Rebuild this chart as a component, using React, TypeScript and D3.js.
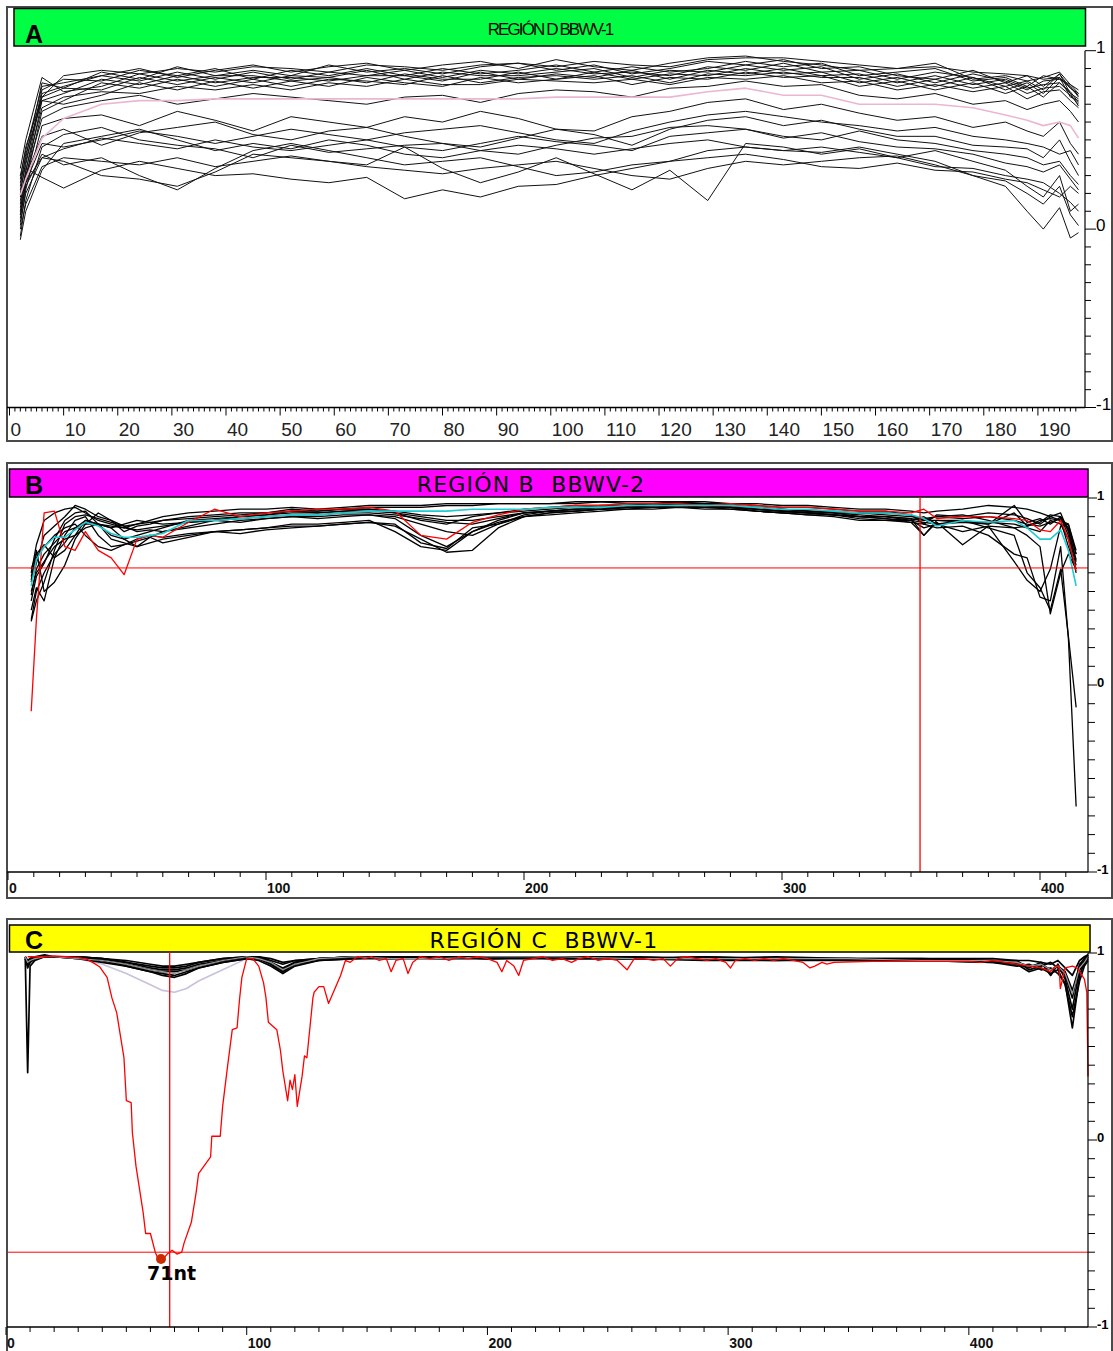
import React, { useEffect, useRef } from 'react';
import * as d3 from 'd3';

// values are stored x100 (1.00 -> 100)

// ---------- panel A : REGIÓN D BBWV-1 ----------
const A_POS = [2, 3, 6, 10, 17, 24, 31, 38, 45, 52, 59, 66, 73, 80, 87, 94, 101, 108, 115, 122, 129, 136, 143, 150, 157, 164, 171, 178, 184, 188, 191, 194, 196, 197.5];
const A_LINES = [
  [30, 44, 80, 82, 86, 90, 85, 89, 92, 88, 91, 93, 89, 92, 94, 90, 95, 91, 89, 93, 96, 97, 94, 92, 89, 90, 93, 84, 86, 83, 85, 88, 81, 78],
  [26, 40, 82, 79, 88, 84, 91, 86, 89, 86, 92, 88, 90, 87, 91, 93, 89, 92, 87, 90, 94, 92, 95, 90, 91, 86, 84, 89, 82, 86, 80, 87, 79, 76],
  [22, 36, 78, 84, 83, 89, 86, 90, 84, 89, 86, 90, 86, 90, 87, 89, 92, 88, 91, 88, 90, 94, 91, 93, 86, 88, 90, 83, 85, 80, 86, 84, 80, 74],
  [18, 32, 76, 80, 86, 83, 88, 84, 88, 84, 88, 86, 89, 85, 89, 87, 90, 87, 88, 86, 91, 89, 93, 88, 89, 84, 88, 85, 80, 83, 78, 87, 76, 73],
  [34, 50, 85, 77, 80, 87, 83, 86, 86, 83, 85, 89, 84, 88, 86, 86, 88, 90, 85, 89, 88, 92, 89, 91, 84, 87, 82, 87, 83, 78, 83, 84, 81, 76],
  [12, 28, 72, 76, 84, 81, 86, 82, 85, 85, 83, 86, 86, 83, 88, 84, 87, 85, 89, 84, 89, 87, 90, 86, 87, 82, 86, 81, 84, 79, 81, 82, 77, 71],
  [20, 38, 74, 79, 78, 85, 81, 85, 82, 86, 85, 82, 87, 84, 84, 88, 84, 88, 84, 87, 86, 90, 87, 88, 82, 85, 80, 85, 78, 82, 76, 85, 74, 72],
  [6, 26, 66, 72, 82, 79, 84, 80, 84, 80, 84, 83, 81, 86, 82, 85, 86, 84, 86, 82, 87, 86, 88, 85, 85, 80, 84, 79, 82, 76, 79, 80, 75, 70],
  [24, 42, 72, 70, 75, 82, 78, 83, 79, 83, 80, 85, 82, 80, 85, 82, 84, 86, 81, 85, 84, 88, 85, 86, 80, 83, 78, 82, 76, 80, 74, 82, 76, 69],
  [14, 33, 68, 74, 77, 76, 80, 78, 81, 78, 82, 80, 84, 81, 81, 84, 83, 82, 84, 81, 85, 84, 86, 82, 83, 78, 81, 77, 80, 73, 77, 78, 72, 68],
  [28, 46, 74, 86, 89, 87, 90, 88, 91, 90, 88, 92, 91, 89, 92, 93, 91, 94, 92, 91, 95, 96, 96, 94, 92, 90, 91, 88, 87, 86, 84, 85, 79, 75],
  [10, 30, 62, 68, 72, 75, 70, 73, 76, 74, 72, 70, 74, 75, 71, 76, 78, 77, 74, 79, 80, 83, 80, 81, 75, 73, 76, 70, 72, 67, 70, 72, 66, 60],
  [2, 22, 58, 62, 64, 58, 66, 61, 55, 63, 60, 57, 63, 60, 66, 62, 56, 55, 63, 66, 71, 73, 67, 70, 65, 61, 63, 57, 60, 55, 52, 60, 48, 42],
  [16, 30, 52, 56, 47, 54, 57, 60, 53, 50, 55, 57, 52, 48, 46, 51, 56, 53, 47, 56, 61, 63, 58, 61, 56, 52, 52, 47, 46, 45, 40, 50, 38, 30],
  [-4, 16, 46, 53, 57, 50, 47, 45, 40, 47, 43, 45, 47, 48, 44, 42, 47, 51, 52, 57, 58, 56, 51, 54, 49, 46, 45, 42, 37, 35, 32, 36, 28, 22],
  [8, 26, 48, 46, 50, 55, 52, 48, 52, 56, 53, 50, 54, 56, 58, 54, 50, 48, 55, 60, 64, 66, 63, 60, 58, 55, 57, 52, 50, 48, 46, 42, 44, 36],
  [4, 20, 40, 45, 51, 48, 45, 50, 46, 44, 47, 50, 46, 44, 48, 52, 49, 47, 44, 52, 54, 56, 52, 50, 55, 50, 48, 44, 42, 40, 36, 38, 30, 25],
  [30, 34, 29, 23, 33, 38, 34, 30, 31, 28, 26, 29, 17, 22, 18, 24, 25, 30, 34, 38, 44, 46, 44, 43, 46, 42, 38, 30, 24, 10, 0, 12, -5, -2],
  [18, 26, 40, 38, 30, 28, 24, 32, 42, 40, 38, 36, 46, 34, 26, 32, 40, 31, 22, 33, 16, 48, 46, 42, 45, 40, 44, 38, 33, 24, 18, 30, 10, 14],
  [8, 24, 42, 36, 40, 30, 22, 34, 44, 48, 44, 40, 36, 38, 40, 35, 30, 32, 36, 38, 40, 42, 39, 35, 34, 37, 33, 32, 28, 26, 22, 18, 24, 20],
  [0, 14, 35, 40, 38, 36, 40, 35, 38, 41, 38, 35, 33, 31, 34, 36, 38, 34, 30, 28, 34, 38, 36, 38, 40, 41, 36, 30, 27, 20, 14, 24, 8, 2],
  [-6, 10, 33, 48, 52, 56, 50, 44, 48, 45, 50, 47, 42, 40, 44, 47, 45, 42, 45, 48, 50, 46, 44, 46, 43, 40, 35, 34, 30, 28, 26, 20, 15, 10],
];
const A_MEAN = [19, 28, 51, 62, 70, 72, 72, 73, 73, 73, 73, 73, 73, 73, 73, 73, 74, 74, 74, 74, 77, 79, 75, 75, 70, 70, 70, 68, 64, 61, 58, 60, 58, 51];

// ---------- panel B : REGIÓN B BBWV-2 ----------
const B_POS = [9, 11, 14, 18, 22, 26, 30, 35, 40, 45, 50, 55, 60, 70, 80, 90, 100, 110, 120, 130, 140, 150, 160, 170, 180, 190, 200, 210, 220, 230, 240, 250, 260, 270, 280, 290, 300, 310, 320, 330, 340, 350, 355, 360, 370, 380, 390, 395, 400, 404, 408, 411, 414];
const B_LINES = [
  [60, 75, 88, 92, 94, 95, 92, 88, 86, 84, 86, 88, 90, 92, 93, 94, 94, 95, 94, 95, 96, 96, 96, 97, 97, 97, 97, 97, 97, 98, 98, 98, 98, 98, 97, 97, 96, 96, 95, 94, 94, 93, 92, 93, 94, 96, 95, 94, 92, 90, 88, 86, 70],
  [55, 65, 80, 85, 90, 96, 94, 90, 88, 82, 85, 86, 88, 90, 91, 92, 92, 94, 93, 94, 95, 95, 95, 96, 96, 97, 97, 97, 98, 98, 97, 97, 98, 97, 97, 96, 95, 95, 94, 93, 93, 91, 86, 91, 90, 92, 91, 89, 86, 90, 92, 82, 66],
  [45, 58, 65, 78, 88, 92, 93, 86, 80, 78, 80, 82, 84, 88, 89, 90, 91, 93, 92, 93, 94, 92, 88, 86, 90, 92, 94, 95, 96, 96, 96, 97, 97, 97, 96, 95, 94, 93, 93, 92, 92, 91, 88, 90, 91, 88, 84, 85, 87, 91, 90, 80, 64],
  [35, 50, 60, 70, 76, 84, 88, 86, 78, 76, 74, 76, 78, 80, 82, 83, 84, 86, 86, 87, 88, 82, 74, 72, 82, 88, 92, 93, 94, 95, 96, 96, 96, 96, 95, 94, 93, 93, 92, 91, 90, 89, 80, 88, 88, 86, 92, 85, 88, 89, 88, 74, 62],
  [62, 70, 75, 68, 72, 80, 88, 86, 84, 78, 74, 79, 82, 84, 86, 88, 89, 90, 90, 91, 91, 90, 86, 82, 80, 86, 91, 93, 94, 94, 95, 96, 96, 95, 95, 94, 93, 92, 92, 90, 90, 88, 87, 86, 88, 84, 80, 60, 52, 40, 62, 26, -12],
  [56, 72, 50, 55, 64, 78, 86, 92, 88, 85, 82, 83, 82, 85, 88, 87, 89, 90, 89, 90, 91, 89, 80, 74, 82, 87, 90, 92, 93, 94, 94, 95, 95, 95, 95, 93, 92, 91, 91, 90, 89, 87, 86, 84, 85, 80, 70, 68, 47, 45, 74, 25, -65],
  [58, 68, 74, 80, 84, 86, 80, 74, 72, 75, 78, 80, 79, 81, 82, 83, 84, 85, 85, 86, 87, 85, 78, 71, 72, 84, 90, 92, 93, 94, 95, 95, 95, 95, 95, 94, 93, 92, 91, 89, 88, 88, 90, 86, 82, 85, 66, 56, 50, 62, 85, 86, 72],
  [40, 52, 45, 68, 80, 88, 90, 80, 74, 75, 77, 79, 76, 79, 82, 81, 83, 84, 85, 86, 87, 86, 76, 73, 84, 86, 90, 91, 92, 93, 94, 94, 95, 94, 94, 93, 92, 91, 90, 88, 88, 87, 80, 87, 75, 85, 84, 80, 74, 38, 60, 70, 62],
  [50, 60, 66, 74, 78, 80, 84, 86, 84, 86, 88, 87, 86, 87, 88, 90, 91, 92, 92, 93, 93, 92, 90, 88, 88, 90, 92, 93, 94, 95, 95, 95, 96, 96, 95, 94, 93, 92, 91, 90, 89, 88, 84, 86, 87, 86, 96, 87, 89, 86, 90, 84, 70],
  [48, 62, 70, 76, 82, 84, 86, 86, 85, 84, 83, 84, 85, 87, 88, 89, 90, 91, 91, 92, 92, 91, 89, 87, 86, 89, 92, 93, 93, 94, 95, 95, 95, 95, 94, 93, 92, 92, 91, 90, 90, 89, 88, 88, 87, 87, 86, 84, 82, 88, 86, 78, 60],
  [34, 45, 55, 72, 86, 90, 91, 89, 87, 85, 86, 87, 88, 89, 90, 91, 92, 93, 93, 94, 94, 93, 91, 90, 91, 92, 93, 94, 95, 96, 96, 96, 97, 97, 96, 95, 94, 93, 92, 92, 91, 90, 89, 90, 89, 90, 88, 86, 85, 87, 89, 83, 67],
];
const B_RED = [-14, 35, 92, 93, 74, 72, 82, 72, 68, 59, 78, 80, 79, 87, 94, 90, 92, 93, 94, 94, 95, 93, 80, 78, 87, 91, 94, 95, 96, 96, 97, 97, 97, 96, 97, 96, 95, 95, 94, 93, 93, 92, 94, 89, 90, 90, 89, 88, 83, 82, 88, 78, 61];
const B_CYAN = [53, 67, 74, 79, 79, 83, 87, 85, 81, 79, 79, 80, 81, 88, 88, 89, 90, 91, 91, 92, 93, 93, 93, 93, 94, 94, 94, 95, 95, 95, 96, 96, 96, 96, 96, 95, 94, 94, 93, 92, 92, 91, 89, 85, 88, 87, 88, 84, 78, 78, 83, 72, 53];
const B_CROSS_POS = 353.5;
const B_CROSS_VAL = 0.626;

// ---------- panel C : REGIÓN C BBWV-1 ----------
const C_POS = [8, 9, 10, 12, 16, 20, 30, 40, 50, 60, 65, 70, 75, 80, 90, 100, 105, 110, 115, 120, 130, 145, 160, 180, 200, 230, 260, 290, 320, 350, 380, 410, 420, 425, 430, 434, 437, 440, 443, 446, 448, 449.5];
const C_LINES = [
  [97, 36, 93, 96, 98, 98, 98, 97, 95, 93, 92, 92, 93, 95, 97, 98, 98, 96, 94, 96, 97, 98, 98, 98, 97, 98, 98, 97, 98, 97, 97, 96, 95, 93, 94, 91, 93, 90, 80, 93, 96, 98],
  [98, 92, 95, 97, 98, 98, 98, 96, 94, 91, 90, 90, 91, 93, 96, 98, 97, 95, 91, 95, 97, 98, 98, 97, 98, 97, 97, 98, 97, 97, 96, 96, 94, 92, 95, 88, 94, 86, 70, 91, 94, 97],
  [98, 95, 96, 98, 98, 98, 97, 96, 93, 90, 89, 88, 90, 92, 95, 97, 97, 94, 90, 94, 96, 97, 98, 98, 97, 98, 97, 97, 97, 96, 96, 95, 93, 94, 91, 92, 89, 84, 60, 88, 95, 98],
  [97, 94, 97, 98, 98, 98, 98, 97, 95, 92, 91, 91, 92, 94, 96, 98, 98, 95, 92, 95, 97, 98, 97, 98, 98, 97, 98, 97, 96, 97, 96, 96, 96, 91, 93, 95, 92, 88, 76, 94, 97, 99],
  [98, 96, 97, 98, 99, 98, 98, 97, 96, 94, 93, 93, 94, 95, 97, 98, 98, 97, 95, 96, 97, 98, 98, 98, 98, 98, 97, 98, 97, 97, 97, 97, 96, 96, 95, 94, 96, 92, 88, 96, 98, 99],
  [97, 93, 95, 97, 98, 98, 97, 95, 93, 90, 88, 87, 89, 92, 95, 97, 96, 93, 89, 93, 96, 97, 97, 97, 97, 97, 97, 96, 96, 96, 96, 95, 94, 90, 92, 89, 91, 83, 66, 85, 93, 96],
];
const C_GRAY = [98, 95, 96, 97, 98, 98, 97, 96, 94, 91, 90, 89, 91, 93, 96, 98, 97, 95, 91, 94, 97, 98, 97, 97, 98, 98, 97, 97, 97, 97, 96, 96, 95, 93, 94, 91, 93, 89, 78, 92, 95, 98];
const C_LILAC = [98, 96, 97, 98, 98, 98, 97, 94, 89, 83, 80, 79, 81, 85, 91, 97, 96, 93, 90, 93, 96, 97, 98, 97, 97, 97, 97, 97, 97, 96, 96, 96, 95, 93, 94, 91, 93, 89, 79, 92, 95, 98];
const C_RED_POS = [
  9, 15, 20, 25, 30, 33, 36, 39, 42, 44, 46, 47, 49, 50, 52, 52.5, 54, 57, 58, 60,
  62, 63, 65, 67, 69, 71, 73, 74, 77, 79, 80, 85, 85.5, 89, 90, 92, 94, 96, 97, 98,
  100, 102.5, 105, 107, 108, 109, 112.5, 114, 115, 117, 118, 119, 120, 121, 123, 124, 125, 127.5, 128, 130,
  132, 134, 136, 139, 141, 143, 146, 149, 152, 155, 158, 160, 162, 165, 167, 169, 172, 176, 180, 184,
  188, 192, 196, 200, 204, 206, 208, 211, 213, 215, 219, 223, 227, 231, 235, 238, 242, 246, 250, 254,
  258, 261, 265, 269, 273, 276, 279, 283, 287, 291, 295, 299, 301, 303, 307, 311, 315, 319, 323, 327,
  331, 334, 336, 339, 341, 344, 360, 380, 400, 405, 410, 415, 420, 425, 430, 434, 436, 437.5, 438, 440,
  443, 445, 448, 449, 449.5,
];
const C_RED = [
  98, 98, 98.5, 98, 97.5, 97, 95, 92.5, 87, 76, 68, 60, 44, 21, 20, 4, -14, -39, -50, -50,
  -60, -63, -64, -61, -59, -61, -60, -55, -44, -28, -18, -9, 2, 2, 18, 39, 59, 60, 75, 87,
  97, 97, 93, 84, 76, 63, 59, 48, 37, 21, 32, 27, 35, 18, 34, 45, 44, 76, 79, 82,
  82, 73, 79, 88, 96, 95, 98, 97, 98, 96, 97, 90, 96, 97, 89, 95, 98, 97, 98, 96,
  98, 97, 98, 97, 95, 90, 96, 93, 88, 96, 97, 98, 96, 97, 95, 97, 98, 96, 97, 96,
  91, 97, 97, 96, 97, 93, 97, 98, 97, 96, 97, 95, 92, 96, 97, 96, 97, 96, 97, 96,
  95, 92, 93, 95, 94, 95, 95.5, 95.5, 95.5, 95, 96, 95, 94, 93, 92, 90, 93, 93, 81, 92,
  93, 92, 86, 79, 34,
];
const C_CROSS_POS = 68;
const C_CROSS_VAL = -0.6;
const C_MIN_POS = 64.4;
const C_MIN_VAL = -0.636;
const C_MIN_LABEL = '71nt';

const SANS = '"Liberation Sans", Arial, sans-serif';
const ROUND = '"DejaVu Sans", "Noto Sans", sans-serif';

type Scale = d3.ScaleLinear<number, number>;
type G = d3.Selection<SVGSVGElement, unknown, null, undefined>;

function addLine(svg: G, xs: number[], vs: number[], x: Scale, y: Scale, stroke: string, w: number) {
  const pts = d3.zip(xs, vs) as [number, number][];
  const line = d3.line<[number, number]>().x(d => x(d[0])).y(d => y(d[1] / 100));
  svg.append('path').datum(pts)
    .attr('d', line)
    .attr('fill', 'none')
    .attr('stroke', stroke)
    .attr('stroke-width', w)
    .attr('stroke-linejoin', 'round');
}

function frame(svg: G, top: number, bottom: number) {
  svg.append('rect')
    .attr('x', 7).attr('y', top)
    .attr('width', 1105).attr('height', bottom - top)
    .attr('fill', 'none').attr('stroke', '#4a4a4a').attr('stroke-width', 2);
}

function header(svg: G, x0: number, y0: number, x1: number, y1: number, fill: string, letter: string) {
  svg.append('rect')
    .attr('x', x0).attr('y', y0).attr('width', x1 - x0).attr('height', y1 - y0)
    .attr('fill', fill).attr('stroke', '#000').attr('stroke-width', 1.5);
  svg.append('text')
    .attr('x', 25).attr('y', y1 - 3)
    .attr('font-family', SANS).attr('font-weight', 'bold').attr('font-size', 25)
    .text(letter);
}

function rightAxis(svg: G, y: Scale, ax: number, minorLen: number, majorLen: number, labelX: number, size: number, weight: string) {
  svg.append('line')
    .attr('x1', ax).attr('x2', ax).attr('y1', y(1)).attr('y2', y(-1))
    .attr('stroke', '#000').attr('stroke-width', 1.2);
  d3.range(-10, 11).forEach(i => {
    const major = i % 10 === 0;
    svg.append('line')
      .attr('x1', ax).attr('x2', ax + (major ? majorLen : minorLen))
      .attr('y1', y(i / 10)).attr('y2', y(i / 10))
      .attr('stroke', '#000').attr('stroke-width', 1);
  });
  [1, 0, -1].forEach(v => {
    svg.append('text')
      .attr('x', labelX).attr('y', y(v) + 2)
      .attr('font-family', SANS).attr('font-size', size).attr('font-weight', weight)
      .text(String(v));
  });
}

function bottomAxis(svg: G, x: Scale, y0: number, x1: number, ticks: number[], majorStep: number,
  minorLen: number, majorLen: number, labelY: number, size: number, weight: string, color: string) {
  svg.append('line')
    .attr('x1', 7).attr('x2', x1).attr('y1', y0).attr('y2', y0)
    .attr('stroke', '#000').attr('stroke-width', 1.5);
  ticks.forEach(t => {
    const major = t % majorStep === 0;
    svg.append('line')
      .attr('x1', x(t)).attr('x2', x(t))
      .attr('y1', y0).attr('y2', y0 + (major ? majorLen : minorLen))
      .attr('stroke', '#000').attr('stroke-width', 1);
  });
  ticks.filter(t => t % majorStep === 0).forEach(t => {
    svg.append('text')
      .attr('x', x(t) + 1).attr('y', labelY)
      .attr('font-family', SANS).attr('font-size', size).attr('font-weight', weight)
      .attr('fill', color)
      .text(String(t));
  });
}

function drawA(svg: G) {
  const x = d3.scaleLinear().domain([0, 198.7]).range([9.5, 1085]);
  const y = d3.scaleLinear().domain([-1, 1]).range([407.5, 50.7]);
  frame(svg, 7, 441);
  header(svg, 14, 8.5, 1085.5, 46, '#00ff44', 'A');
  svg.append('text')
    .attr('x', 550).attr('y', 35).attr('text-anchor', 'middle')
    .attr('font-family', SANS).attr('font-size', 17).attr('letter-spacing', -1.9)
    .text('REGIÓN D BBWV-1');

  A_LINES.forEach(s => addLine(svg, A_POS, s, x, y, '#111', 1));
  addLine(svg, A_POS, A_MEAN, x, y, '#ebb6d2', 1.6);

  rightAxis(svg, y, 1085, 6, 11, 1096, 17, 'normal');
  bottomAxis(svg, x, 407.5, 1085, d3.range(0, 198), 10, 4, 8, 436, 19, 'normal', '#222');
}

function drawB(svg: G) {
  const x = d3.scaleLinear().domain([0, 418.6]).range([8, 1088]);
  const y = d3.scaleLinear().domain([-1, 1]).range([872, 498]);
  frame(svg, 463, 898);
  header(svg, 9.5, 469, 1088, 497, '#ff00ff', 'B');
  svg.append('text')
    .attr('x', 531).attr('y', 492).attr('text-anchor', 'middle')
    .attr('font-family', ROUND).attr('font-size', 22).attr('letter-spacing', 1.2)
    .attr('xml:space', 'preserve').style('white-space', 'pre')
    .text('REGIÓN B  BBWV-2');

  B_LINES.forEach(s => addLine(svg, B_POS, s, x, y, '#000', 1.3));
  addLine(svg, B_POS, B_RED, x, y, '#ff0000', 1.3);
  addLine(svg, B_POS, B_CYAN, x, y, '#1ecbd0', 1.6);

  svg.append('line')
    .attr('x1', 8).attr('x2', 1088).attr('y1', y(B_CROSS_VAL)).attr('y2', y(B_CROSS_VAL))
    .attr('stroke', '#ff0000').attr('stroke-width', 1);
  svg.append('line')
    .attr('x1', x(B_CROSS_POS)).attr('x2', x(B_CROSS_POS)).attr('y1', 497).attr('y2', 872)
    .attr('stroke', '#ff0000').attr('stroke-width', 1.3);

  rightAxis(svg, y, 1088, 7, 9, 1097, 13, 'bold');
  bottomAxis(svg, x, 872, 1088, d3.range(0, 411, 10), 100, 5, 8, 893, 14, 'bold', '#111');
}

function drawC(svg: G) {
  const x = d3.scaleLinear().domain([0, 449.5]).range([6, 1088]);
  const y = d3.scaleLinear().domain([-1, 1]).range([1327, 953]);
  frame(svg, 919, 1362);
  header(svg, 9.5, 925, 1090, 952, '#ffff00', 'C');
  svg.append('text')
    .attr('x', 544).attr('y', 948).attr('text-anchor', 'middle')
    .attr('font-family', ROUND).attr('font-size', 22).attr('letter-spacing', 1.2)
    .attr('xml:space', 'preserve').style('white-space', 'pre')
    .text('REGIÓN C  BBWV-1');

  addLine(svg, C_POS, C_LILAC, x, y, '#c9c1dc', 1.6);
  C_LINES.forEach(s => addLine(svg, C_POS, s, x, y, '#000', 1.7));
  addLine(svg, C_POS, C_GRAY, x, y, '#9a9a9a', 1.2);
  addLine(svg, C_RED_POS, C_RED, x, y, '#ff0000', 1.3);

  svg.append('line')
    .attr('x1', 8).attr('x2', 1088).attr('y1', y(C_CROSS_VAL)).attr('y2', y(C_CROSS_VAL))
    .attr('stroke', '#ff0000').attr('stroke-width', 1);
  svg.append('line')
    .attr('x1', x(C_CROSS_POS)).attr('x2', x(C_CROSS_POS)).attr('y1', 952).attr('y2', 1327)
    .attr('stroke', '#ff0000').attr('stroke-width', 1.3);
  svg.append('circle')
    .attr('cx', x(C_MIN_POS)).attr('cy', y(C_MIN_VAL)).attr('r', 5)
    .attr('fill', '#cc2a00');
  svg.append('text')
    .attr('x', x(C_MIN_POS) - 14).attr('y', 1280)
    .attr('font-family', ROUND).attr('font-weight', 'bold').attr('font-size', 19)
    .text(C_MIN_LABEL);

  rightAxis(svg, y, 1088, 7, 9, 1097, 13, 'bold');
  bottomAxis(svg, x, 1327, 1088, d3.range(0, 441, 10), 100, 5, 8, 1348, 14, 'bold', '#111');
}

export default function App() {
  const ref = useRef<SVGSVGElement>(null);

  useEffect(() => {
    const svg = d3.select(ref.current as SVGSVGElement) as G;
    svg.selectAll('*').remove();
    drawA(svg);
    drawB(svg);
    drawC(svg);
  }, []);

  return (
    <svg
      ref={ref}
      width={1113}
      height={1351}
      style={{ position: 'absolute', left: 0, top: 0, background: '#fff', display: 'block' }}
    />
  );
}
